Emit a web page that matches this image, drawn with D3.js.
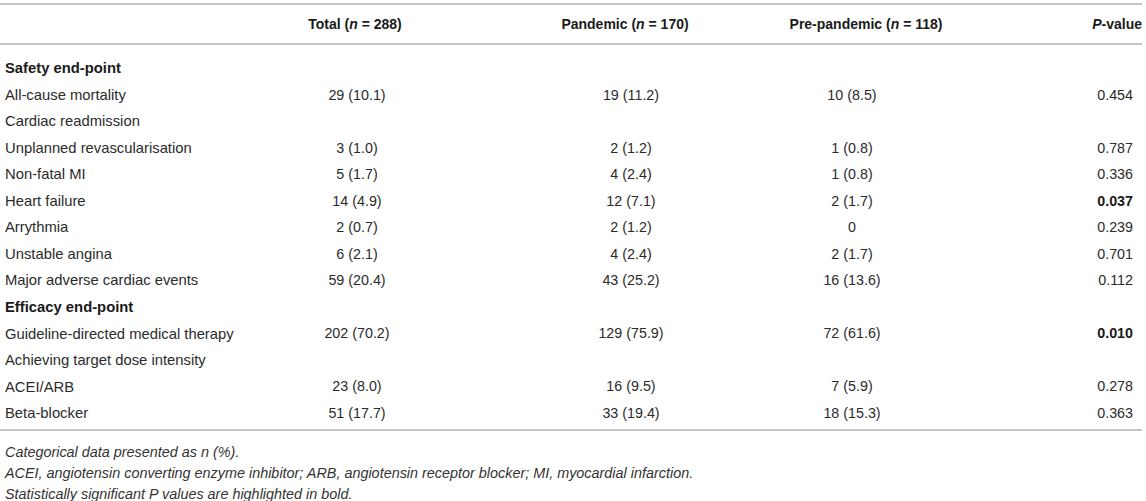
<!DOCTYPE html>
<html>
<head>
<meta charset="utf-8">
<script src="https://cdn.jsdelivr.net/npm/d3@7"></script>
<style>
  body { margin: 0; background: #fff; }
  text { font-family: "Liberation Sans", Arial, sans-serif; }
</style>
</head>
<body>
<div id="table"></div>
<script>
// table content
var rowLabels = ["Safety end-point", "All-cause mortality", "Cardiac readmission",
  "Unplanned revascularisation", "Non-fatal MI", "Heart failure", "Arrythmia",
  "Unstable angina", "Major adverse cardiac events", "Efficacy end-point",
  "Guideline-directed medical therapy", "Achieving target dose intensity",
  "ACEI/ARB", "Beta-blocker"];
var sectionRows = ["Safety end-point", "Efficacy end-point"];
var totalVals = ["", "29 (10.1)", "", "3 (1.0)", "5 (1.7)", "14 (4.9)", "2 (0.7)",
  "6 (2.1)", "59 (20.4)", "", "202 (70.2)", "", "23 (8.0)", "51 (17.7)"];
var pandemicVals = ["", "19 (11.2)", "", "2 (1.2)", "4 (2.4)", "12 (7.1)", "2 (1.2)",
  "4 (2.4)", "43 (25.2)", "", "129 (75.9)", "", "16 (9.5)", "33 (19.4)"];
var prePandemicVals = ["", "10 (8.5)", "", "1 (0.8)", "1 (0.8)", "2 (1.7)", "0",
  "2 (1.7)", "16 (13.6)", "", "72 (61.6)", "", "7 (5.9)", "18 (15.3)"];
var pVals = ["", "0.454", "", "0.787", "0.336", "0.037", "0.239",
  "0.701", "0.112", "", "0.010", "", "0.278", "0.363"];
var boldP = ["0.037", "0.010"];
var footnotes = ["Categorical data presented as n (%).",
  "ACEI, angiotensin converting enzyme inhibitor; ARB, angiotensin receptor blocker; MI, myocardial infarction.",
  "Statistically significant P values are highlighted in bold."];

var width = 1146, height = 501;

var svg = d3.select("#table")
  .append("svg")
    .attr("width", width)
    .attr("height", height);

// row positions (centre of each row)
var y = d3.scalePoint()
  .domain(d3.range(rowLabels.length))
  .range([68, 413]);

var lineColor = "#b3b3b3";
var textColor = "#2b2b2b";

// rules
[4, 44, 430].forEach(function(ly) {
  svg.append("line")
    .attr("x1", 0).attr("x2", 1142)
    .attr("y1", ly).attr("y2", ly)
    .attr("stroke", lineColor)
    .attr("stroke-width", 1.5);
});

// header
var header = svg.append("g").attr("font-size", 14).attr("font-weight", "bold").attr("fill", "#1a1a1a");
function headerCell(x, anchor, parts) {
  var t = header.append("text")
    .attr("x", x).attr("y", 24).attr("dy", "0.35em")
    .attr("text-anchor", anchor);
  parts.forEach(function(p) {
    t.append("tspan").attr("font-style", p[1] ? "italic" : "normal").text(p[0]);
  });
}
headerCell(355, "middle", [["Total (", 0], ["n", 1], [" = 288)", 0]]);
headerCell(625, "middle", [["Pandemic (", 0], ["n", 1], [" = 170)", 0]]);
headerCell(866, "middle", [["Pre-pandemic (", 0], ["n", 1], [" = 118)", 0]]);
headerCell(1142, "end", [["P", 1], ["-value", 0]]);

// body
var body = svg.append("g").attr("fill", textColor);

body.selectAll("text.label")
  .data(rowLabels)
  .enter()
  .append("text")
    .attr("class", "label")
    .attr("x", 5)
    .attr("y", function(d, i) { return y(i); })
    .attr("dy", "0.35em")
    .attr("font-size", 14.8)
    .attr("font-weight", function(d) { return sectionRows.indexOf(d) >= 0 ? "bold" : "normal"; })
    .attr("fill", function(d) { return sectionRows.indexOf(d) >= 0 ? "#1a1a1a" : textColor; })
    .text(function(d) { return d; });

function valueColumn(vals, x, anchor) {
  body.append("g")
    .selectAll("text")
    .data(vals)
    .enter()
    .append("text")
      .attr("x", x)
      .attr("y", function(d, i) { return y(i); })
      .attr("dy", "0.35em")
      .attr("font-size", 14.3)
      .attr("text-anchor", anchor)
      .attr("font-weight", function(d) { return boldP.indexOf(d) >= 0 && vals === pVals ? "bold" : "normal"; })
      .attr("fill", function(d) { return boldP.indexOf(d) >= 0 && vals === pVals ? "#1a1a1a" : textColor; })
      .text(function(d) { return d; });
}
valueColumn(totalVals, 357, "middle");
valueColumn(pandemicVals, 631, "middle");
valueColumn(prePandemicVals, 852, "middle");
valueColumn(pVals, 1133, "end");

// footnotes
svg.append("g")
  .selectAll("text")
  .data(footnotes)
  .enter()
  .append("text")
    .attr("x", 5)
    .attr("y", function(d, i) { return 452 + i * 21; })
    .attr("dy", "0.35em")
    .attr("font-size", 14.4)
    .attr("font-style", "italic")
    .attr("fill", "#333")
    .text(function(d) { return d; });
</script>
</body>
</html>
